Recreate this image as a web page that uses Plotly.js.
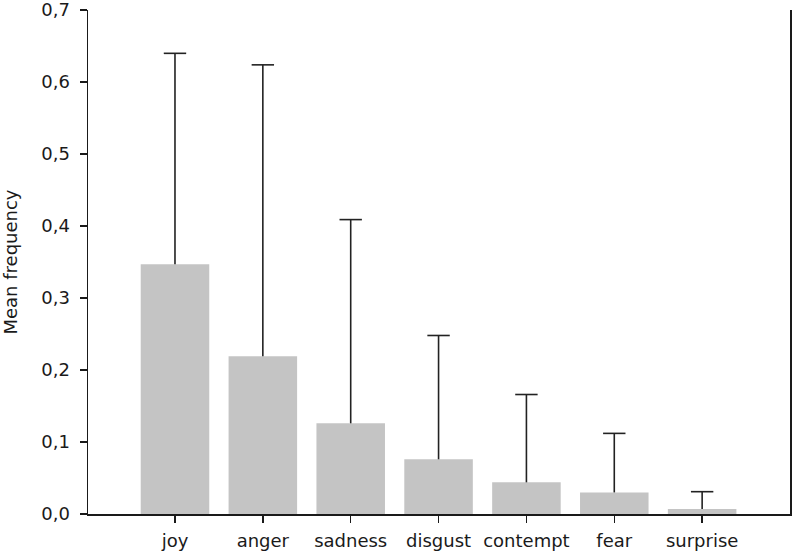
<!DOCTYPE html>
<html>
<head>
<meta charset="utf-8">
<script src="https://cdn.plot.ly/plotly-3.0.1.min.js"></script>
<style>html,body{margin:0;padding:0;background:#fff;}#chart{width:792px;height:554px;}</style>
</head>
<body>
<div id="chart"></div>
<script>
var categories = ["joy", "anger", "sadness", "disgust", "contempt", "fear", "surprise"];
var meanValues = [0.347, 0.219, 0.126, 0.076, 0.044, 0.030, 0.007];
var upperValues = [0.640, 0.624, 0.409, 0.248, 0.166, 0.112, 0.031];
var yTickValues = [0, 0.1, 0.2, 0.3, 0.4, 0.5, 0.6, 0.7];

var xIdx = categories.map(function (c, i) { return i; });

// whisker segments from bar top to upper value
var segX = [], segY = [];
xIdx.forEach(function (xi, i) {
  segX.push(xi, xi, null);
  segY.push(meanValues[i], upperValues[i], null);
});

var bars = {
  type: "bar",
  x: xIdx,
  y: meanValues,
  width: 0.78,
  marker: { color: "#c4c4c4", line: { width: 0 } },
  hoverinfo: "none"
};

var whiskers = {
  type: "scatter",
  mode: "lines",
  x: segX,
  y: segY,
  line: { color: "#222222", width: 1.6 },
  hoverinfo: "none",
  cliponaxis: false
};

var caps = {
  type: "scatter",
  mode: "markers",
  x: xIdx,
  y: upperValues,
  marker: { symbol: "line-ew", size: 16, line: { color: "#222222", width: 1.6 } },
  hoverinfo: "none",
  cliponaxis: false
};

var font = { family: "DejaVu Sans, Verdana, sans-serif", size: 18, color: "#1a1a1a" };

var layout = {
  width: 792,
  height: 554,
  margin: { l: 88, r: 2, t: 10, b: 40, pad: 0 },
  paper_bgcolor: "#ffffff",
  plot_bgcolor: "#ffffff",
  separators: ",.",
  showlegend: false,
  font: font,
  xaxis: {
    range: [-0.99, 7.0],
    tickmode: "array",
    tickvals: xIdx,
    ticktext: categories,
    showline: true,
    linecolor: "#1a1a1a",
    linewidth: 1.5,
    ticks: "outside",
    ticklen: 7,
    tickwidth: 1.5,
    tickcolor: "#1a1a1a",
    ticklabelstandoff: 3,
    showgrid: false,
    zeroline: false,
    fixedrange: true,
    tickfont: font
  },
  yaxis: {
    range: [0, 0.7002],
    tickmode: "array",
    tickvals: yTickValues,
    tickformat: ".1f",
    showline: true,
    mirror: true,
    linecolor: "#1a1a1a",
    linewidth: 1.5,
    ticks: "outside",
    ticklen: 7,
    tickwidth: 1.5,
    tickcolor: "#1a1a1a",
    ticklabelstandoff: 6,
    ticklabeloverflow: "allow",
    showgrid: false,
    zeroline: false,
    fixedrange: true,
    tickfont: font,
    automargin: false,
    title: { text: "Mean frequency", font: font, standoff: 20 }
  }
};

Plotly.newPlot("chart", [bars, whiskers, caps], layout, { displayModeBar: false, staticPlot: true });
</script>
</body>
</html>
